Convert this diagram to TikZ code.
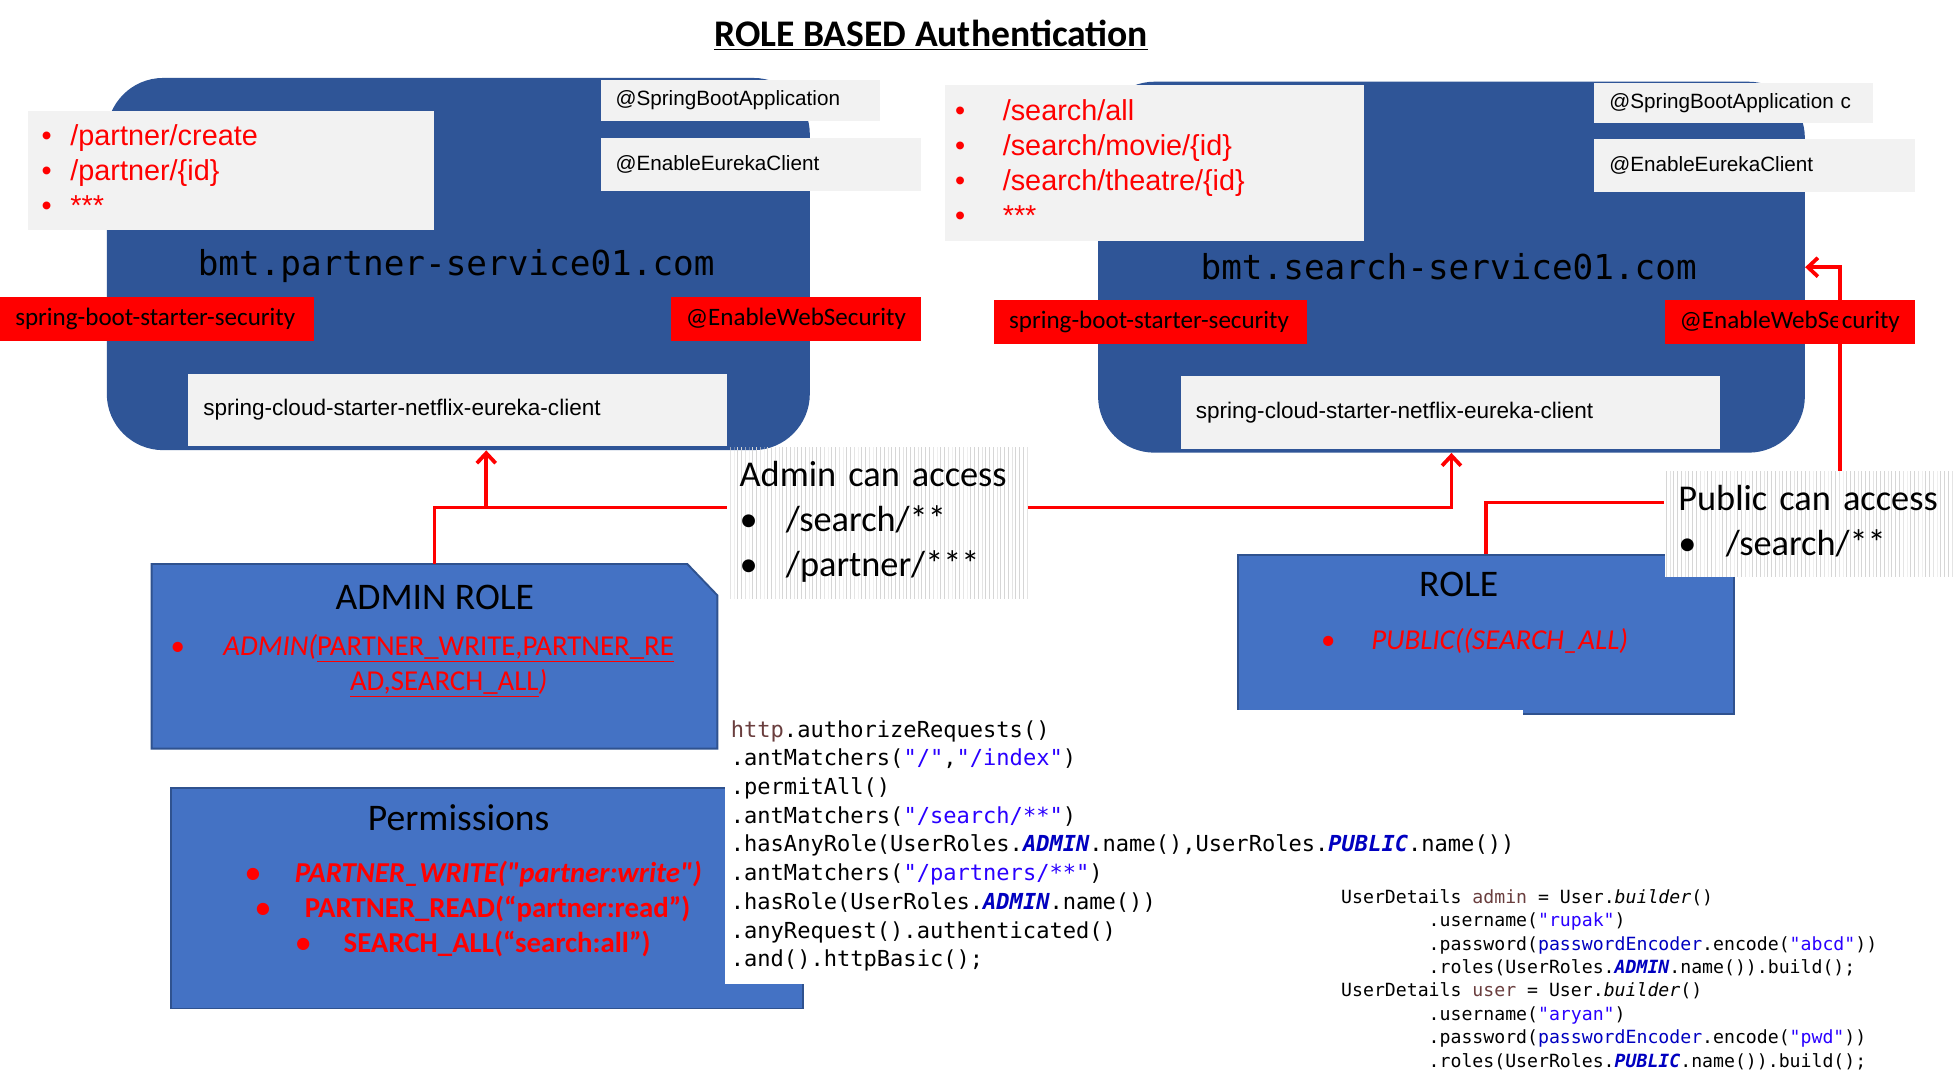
\documentclass[tikz,border=0pt]{standalone}
\usepackage{fontspec}
\setmainfont{Carlito}[Ligatures=TeXOff]
\newfontfamily\arialfont{Liberation Sans}[Ligatures=TeXOff]
\newfontfamily\codefont{DejaVu Sans Mono}[Ligatures=TeXOff]
\usetikzlibrary{arrows.meta,patterns}

\definecolor{svcblue}{HTML}{2F5597}
\definecolor{rolefill}{HTML}{4472C4}
\definecolor{roleline}{HTML}{2F528F}
\definecolor{boxgrey}{HTML}{F2F2F2}
\definecolor{codevar}{HTML}{6A3E3E}
\definecolor{codestr}{HTML}{2A00FF}
\definecolor{codefld}{HTML}{0000C0}

\newcommand{\cvar}[1]{\textcolor{codevar}{#1}}
\newcommand{\cstr}[1]{\textcolor{codestr}{#1}}
\newcommand{\cfld}[1]{\textcolor{codefld}{#1}}
\newcommand{\cconst}[1]{\textcolor{codefld}{\bfseries\itshape #1}}

\tikzset{
  svcbox/.style={fill=svcblue, rounded corners=45pt, anchor=north west, inner sep=0pt},
  greybox/.style={fill=boxgrey, anchor=north west, inner sep=0pt},
  pathitem/.style={anchor=base west, inner sep=0pt, text=red, font=\arialfont\fontsize{23}{28}\selectfont},
  annot/.style={fill=boxgrey, anchor=north west, inner xsep=12pt, inner ysep=0pt, align=left, font=\arialfont\fontsize{16.5}{20}\selectfont},
  secbox/.style={fill=red, anchor=north west, inner xsep=12pt, inner ysep=0pt, align=left, minimum height=35pt, font=\fontsize{20}{24}\selectfont},
  svcname/.style={inner sep=0pt, font=\codefont\fontsize{27.4}{32}\selectfont},
  accessbox/.style={pattern=vertical lines, pattern color=black!16, anchor=north west, inner ysep=0pt, align=left, font=\fontsize{29}{36}\selectfont},
  rolebox/.style={fill=rolefill, draw=roleline, line width=1.5pt, anchor=north west, inner sep=0pt},
  roletitle/.style={anchor=base, inner sep=0pt, font=\fontsize{30}{36}\selectfont},
  roleitem/.style={anchor=base west, inner sep=0pt, text=red, font=\fontsize{23}{28}\selectfont},
  permitem/.style={anchor=base west, inner sep=0pt, text=red, font=\bfseries\fontsize{23}{28}\selectfont},
  code/.style={anchor=north west, inner sep=0pt, align=left},
  conn/.style={draw=red, line width=3pt},
  tip/.style={-{Straight Barb[length=8pt,width=15pt]}}
}

\begin{document}
\begin{tikzpicture}[x=1pt,y=-1pt]
        \useasboundingbox (0,0) rectangle (1560,862);
        \fill[white] (0,0) rectangle (1560,862);

        \node[font=\bfseries\fontsize{30}{36}\selectfont] (title) at (743,28) {\underline{ROLE BASED Authentication}};

        % partner service
        \node[svcbox, minimum width=561pt, minimum height=297pt] (partnersvc) at (85,62) {};
        \node[greybox, minimum width=324pt, minimum height=95pt] (partnerpaths) at (22,88) {};
        \node[pathitem] (partnerpath1) at (33,116) {\makebox[23pt][l]{•}/partner/create};
        \node[pathitem] (partnerpath2) at (33,144) {\makebox[23pt][l]{•}/partner/\{id\}};
        \node[pathitem] (partnerpath3) at (33,172) {\makebox[23pt][l]{•}***};
        \node[annot, text width=199pt, minimum height=32pt] (partnerboot) at (479,64) {@SpringBootApplication};
        \node[annot, text width=232pt, minimum height=42pt] (partnereureka) at (479,110) {@EnableEurekaClient};
        \node[svcname] (partnername) at (364,212) {bmt.partner-service01.com};
        \node[secbox, text width=226pt] (partnerstarter) at (0,237) {\mbox{spring-boot-starter-security}};
        \node[secbox, text width=176pt] (partnerweb) at (535,237) {\mbox{@EnableWebSecurity}};
        \node[annot, text width=406pt, minimum height=58pt, font=\arialfont\fontsize{18}{22}\selectfont] (partnerclient) at (150,298) {\mbox{spring-cloud-starter-netflix-eureka-client}};

        % search service
        \node[svcbox, minimum width=564pt, minimum height=296pt] (searchsvc) at (876,65) {};
        \node[greybox, minimum width=334pt, minimum height=124pt] (searchpaths) at (754,68) {};
        \node[pathitem] (searchpath1) at (762,96) {\makebox[38pt][l]{•}/search/all};
        \node[pathitem] (searchpath2) at (762,124) {\makebox[38pt][l]{•}/search/movie/\{id\}};
        \node[pathitem] (searchpath3) at (762,152) {\makebox[38pt][l]{•}/search/theatre/\{id\}};
        \node[pathitem] (searchpath4) at (762,180) {\makebox[38pt][l]{•}***};
        \node[annot, text width=198pt, minimum height=32pt] (searchboot) at (1272,66) {@SpringBootApplication c};
        \node[annot, text width=232pt, minimum height=42pt] (searcheureka) at (1272,111) {@EnableEurekaClient};
        \node[svcname] (searchname) at (1156,213) {bmt.search-service01.com};
        \node[secbox, text width=226pt] (searchstarter) at (793,239) {\mbox{spring-boot-starter-security}};
        \node[secbox, text width=176pt] (searchweb) at (1328,239) {\mbox{@EnableWebSecurity}};
        \node[annot, text width=406pt, minimum height=58pt, font=\arialfont\fontsize{18}{22}\selectfont] (searchclient) at (942,300) {\mbox{spring-cloud-starter-netflix-eureka-client}};

        % roles
        \node[minimum width=451pt, minimum height=147pt, anchor=north west, inner sep=0pt] (adminrole) at (121,450) {};
        \filldraw[fill=rolefill, draw=roleline, line width=1.5pt] (adminrole.north west) -- ([xshift=-24pt]adminrole.north east)
             -- ([yshift=-25pt]adminrole.north east) -- (adminrole.south east) -- (adminrole.south west) -- cycle;
        \node[roletitle] (admintitle) at (347,486) {ADMIN ROLE};
        \node[roleitem] (adminbullet) at (136,523) {•};
        \node[roleitem, anchor=base] (adminperm1) at (358,523) {\itshape ADMIN(\upshape\underline{PARTNER\_WRITE,PARTNER\_RE}};
        \node[roleitem, anchor=base] (adminperm2) at (358,551) {\underline{AD,SEARCH\_ALL}\itshape)};

        \node[rolebox, minimum width=396pt, minimum height=127pt] (publicrole) at (987,442) {};
        \node[roletitle] (publictitle) at (1164,476) {ROLE};
        \node[roleitem] (publicbullet) at (1054,518) {•};
        \node[roleitem] (publicperm) at (1094,518) {\itshape PUBLIC((SEARCH\_ALL)};

        \node[rolebox, minimum width=504pt, minimum height=176pt] (permbox) at (136,628) {};
        \node[roletitle] (permtitle) at (366,663) {Permissions};
        \node[permitem] (perm1) at (196,704) {\makebox[39pt][l]{•}\itshape PARTNER\_WRITE("partner:write")};
        \node[permitem] (perm2) at (204,732) {\makebox[39pt][l]{•}PARTNER\_READ(“partner:read”)};
        \node[permitem] (perm3) at (236,760) {\makebox[38pt][l]{•}SEARCH\_ALL(“search:all”)};

        % access labels
        \node[accessbox, minimum width=240pt, minimum height=120pt, inner xsep=10pt, text width=220pt] (adminaccess) at (580,357)
             {\strut\mbox{Admin can access}\\ \makebox[37pt][l]{•}/search/**\\ \makebox[37pt][l]{•}/partner/***\strut};
        \node[fill=white, minimum width=232pt, minimum height=84pt, anchor=north west, inner sep=0pt] (publicback) at (1328,376) {};
        \node[accessbox, minimum width=232pt, minimum height=84pt, inner xsep=11pt, text width=210pt] (publicaccess) at (1328,376)
             {\strut\mbox{Public can access}\\ \makebox[38pt][l]{•}/search/**\strut};

        % code
        \node[fill=white, minimum width=637pt, minimum height=219pt, anchor=north west, inner sep=0pt] (codearea) at (578,566) {};
        \node[code, font=\codefont\fontsize{17.6}{22.9}\selectfont] (httpcode) at (583,572) {\strut\cvar{http}.authorizeRequests()\\
.antMatchers(\cstr{"/"},\cstr{"/index"})\\
.permitAll()\\
.antMatchers(\cstr{"/search/**"})\\
.hasAnyRole(UserRoles.\cconst{ADMIN}.name(),UserRoles.\cconst{PUBLIC}.name())\\
.antMatchers(\cstr{"/partners/**"})\\
.hasRole(UserRoles.\cconst{ADMIN}.name())\\
.anyRequest().authenticated()\\
.and().httpBasic();};
        \node[code, font=\codefont\fontsize{14.5}{18.7}\selectfont] (usercode) at (1070,707.4) {\strut UserDetails \cvar{admin} = User.\textit{builder}()\\
\hspace*{4.816em}.username(\cstr{"rupak"})\\
\hspace*{4.816em}.password(\cfld{passwordEncoder}.encode(\cstr{"abcd"}))\\
\hspace*{4.816em}.roles(UserRoles.\cconst{ADMIN}.name()).build();\\
UserDetails \cvar{user} = User.\textit{builder}()\\
\hspace*{4.816em}.username(\cstr{"aryan"})\\
\hspace*{4.816em}.password(\cfld{passwordEncoder}.encode(\cstr{"pwd"}))\\
\hspace*{4.816em}.roles(UserRoles.\cconst{PUBLIC}.name()).build();};

        \coordinate (adminjoin) at (388,405);
        \coordinate (publicjoin) at (1185,401);
        \coordinate (publicturn) at (1468,212);

	\draw[conn] (adminrole.north) |- (adminaccess.west |- adminjoin);
	\draw[conn, tip] (adminjoin) -- (adminjoin |- partnersvc.south);
	\draw[conn, tip] (adminaccess.east |- adminjoin) -| (searchsvc.south);
	\draw[conn] (publicrole.north) |- (publicaccess.west |- publicjoin);
	\draw[conn, tip] (publicaccess.north -| publicturn) |- (searchsvc.east);
\end{tikzpicture}
\end{document}
